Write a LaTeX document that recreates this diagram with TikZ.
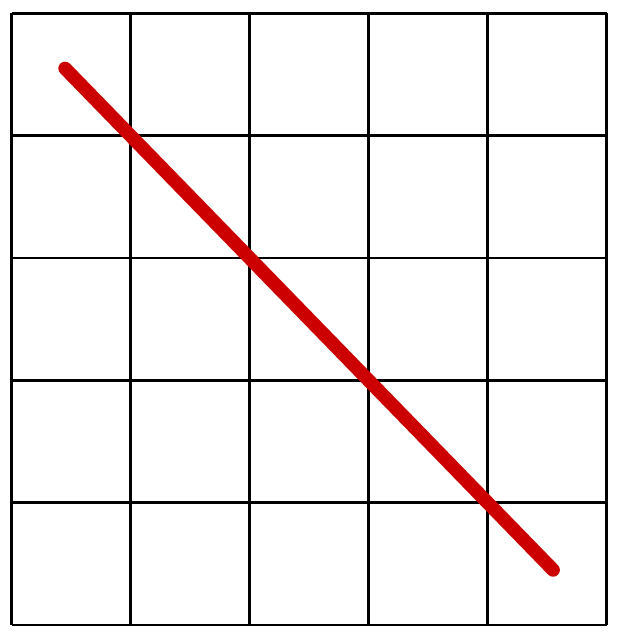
\documentclass[tikz,border=0pt]{standalone}
\usepackage{tikz}
\usetikzlibrary{calc}
\usepackage{xcolor}
\definecolor{strokered}{HTML}{CC0000}

\begin{document}
\begin{tikzpicture}[x=2.975cm,y=3.0575cm]
\useasboundingbox (-0.0966,-0.065) rectangle (5.0966,5.109);
\draw[line width=1.8pt] (0,0) grid[step=1] (5,5);
\coordinate (start) at (0.45,4.55);
\coordinate (finish) at (4.55,0.45);
\draw[strokered,line width=9.6pt,line cap=round] (start)--(finish);
\end{tikzpicture}
\end{document}
